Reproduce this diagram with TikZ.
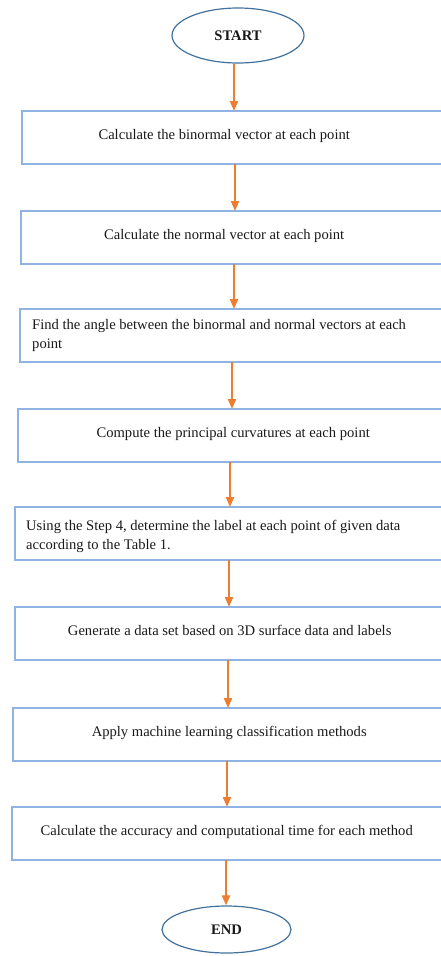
\documentclass[tikz,border=0pt]{standalone}
\usepackage{fontspec}
\setmainfont{Liberation Serif}
\usetikzlibrary{shapes.geometric,arrows.meta}
\definecolor{flowline}{RGB}{237,125,49}
\definecolor{boxline}{RGB}{143,180,227}
\definecolor{ovalline}{RGB}{65,113,156}

\begin{document}
\begin{tikzpicture}[x=1pt, y=-1pt,
        >={Triangle[width=8pt,length=10pt]},
        every node/.style={font=\fontsize{14.6}{19}\selectfont, text=black!90},
        terminal/.style={ellipse, draw=ovalline, line width=1.2pt, minimum width=132pt,
            minimum height=55pt, inner sep=0pt, font=\fontsize{14.6}{19}\selectfont\bfseries},
        stepbox/.style={anchor=north west, minimum height=52.5pt, inner xsep=0pt,
            text height=10pt, text depth=5pt},
        longbox/.style={anchor=north west, minimum height=52.5pt, inner xsep=12pt,
            align=flush left, text width=400pt},
        frame/.style={draw=boxline, line width=1.4pt},
        flow/.style={->, draw=flowline, line width=2pt}]
        \useasboundingbox (0,0) rectangle (440,956);
        \coordinate (edge) at (443,0);

        % Start
        \node[terminal] (start) at (238,35.5) {START};

        % Steps
        \node[stepbox, minimum width=404pt] (b1) at (22,111) {Calculate the binormal vector at each point};
        \node[stepbox, minimum width=406pt] (b2) at (21,211) {Calculate the normal vector at each point};
        \node[longbox] (b3) at (20,309) {Find the angle between the binormal and normal vectors at each\\point};
        \node[stepbox, minimum width=430pt] (b4) at (18,409) {Compute the principal curvatures at each point};
        \node[longbox, inner xsep=11pt, text height=16pt] (b5) at (15,507) {Using the Step 4, determine the label at each point of given data\\according to the Table 1.};
        \node[stepbox, minimum width=429pt] (b6) at (15,607) {Generate a data set based on 3D surface data and labels};
        \node[stepbox, minimum width=432pt] (b7) at (13,708) {Apply machine learning classification methods};
        \node[stepbox, minimum width=429pt] (b8) at (12,807) {Calculate the accuracy and computational time for each method};

        % End
        \node[terminal, minimum width=129pt, minimum height=47pt] (stop) at (226.5,929.5) {END};

        % Box frames run off the right side
        \foreach \i in {1,...,8} {
            \draw[frame] (b\i.north west) rectangle (b\i.south -| edge);
        }

        % Arrows
        \foreach \a/\b/\x in {start/b1/234, b1/b2/235, b2/b3/234, b3/b4/232, b4/b5/230, b5/b6/229, b6/b7/228, b7/b8/227, b8/stop/226} {
            \coordinate (ax) at (\x,0);
            \draw[flow] (ax |- \a.south) -- (ax |- \b.north);
        }
    \end{tikzpicture}
\end{document}
